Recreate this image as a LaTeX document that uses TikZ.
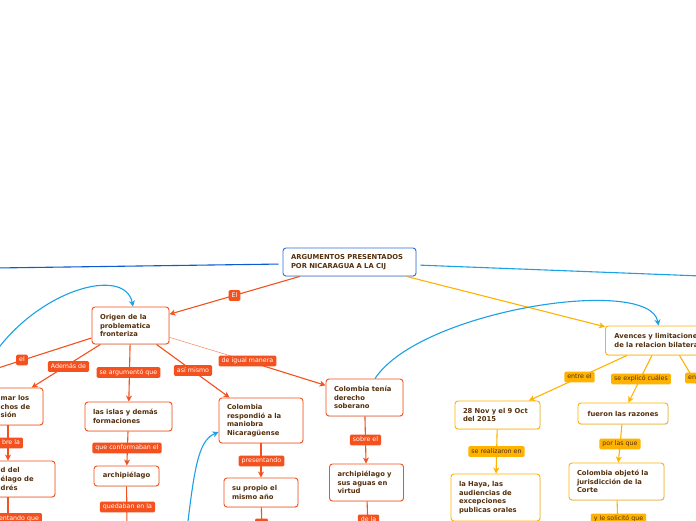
\documentclass[tikz,border=0pt]{standalone}
\usepackage{fontspec}
\setmainfont{DejaVu Sans}
\usetikzlibrary{arrows.meta,shadows,calc}
\definecolor{ora}{HTML}{F4511E}
\definecolor{yel}{HTML}{FFB300}
\definecolor{dblue}{HTML}{0B5BD3}
\definecolor{lblue}{HTML}{1BA1E6}
\definecolor{cblue}{HTML}{2F6FD8}
\definecolor{brn}{HTML}{54300E}
\tikzset{
  box/.style={rounded corners=3pt, fill=white, line width=0.9pt, inner xsep=8pt, inner ysep=0pt,
    align=left, text=brn, font=\fontsize{6.8}{8.6}\selectfont\bfseries,
    drop shadow={shadow xshift=0.5pt, shadow yshift=-0.9pt, opacity=0.18}},
  obox/.style={box, draw=ora},
  ybox/.style={box, draw=yel},
  cbox/.style={box, draw=cblue},
  boxtext/.style={inner sep=0pt, align=left, text=brn, font=\fontsize{6.8}{8.6}\selectfont\bfseries},
  lab/.style={rounded corners=1.2pt, inner xsep=3pt, inner ysep=2.3pt, text height=4.7pt, text depth=1.3pt,
    font=\fontsize{6.3}{7}\selectfont},
  olab/.style={lab, fill=ora, text=white},
  ylab/.style={lab, fill=yel, text=brn},
  tip/.style={-{Stealth[length=6pt,width=6pt,inset=1.8pt]}},
  oline/.style={draw=ora, line width=1.1pt},
  yline/.style={draw=yel, line width=1.1pt},
  oarr/.style={oline, tip},
  yarr/.style={yline, tip},
  barr/.style={draw=lblue, line width=1.1pt, tip},
}
\begin{document}
\begin{tikzpicture}[x=1pt,y=-1pt]
\useasboundingbox (0,0) rectangle (696,520);
\clip (0,0) rectangle (696,520);
\fill[white] (0,0) rectangle (696,520);

% free ends
\coordinate (Lend) at (-5,268);
\coordinate (Rend) at (701,276);
\coordinate (elend) at (-5,369);
\coordinate (cv1) at (-10,360);
\coordinate (cv3) at (187,530);
\coordinate (enend) at (706,400);
\coordinate (archiend) at (127,530);
\coordinate (propioend) at (262,530);
\coordinate (aguasend) at (368,530);
\coordinate (objend) at (618,530);
\coordinate (Bend) at (8,530);

% boxes
\node[cbox, minimum height=28pt, text width=117pt] (center) at (349.5,262) {ARGUMENTOS PRESENTADOS\\POR NICARAGUA A LA CIJ};
\node[obox, minimum height=37pt, text width=61pt] (origen) at (130.5,325.5) {Origen de la\\problematica\\fronteriza};
\node[obox, minimum height=37pt, minimum width=83pt, inner xsep=0pt] (A) at (1.5,406.5) {};
\node[boxtext, anchor=west] (Atext) at (0.5,406.5) {mar los\\chos de\\sión};
\node[obox, minimum height=36pt, minimum width=95pt, inner xsep=0pt] (B) at (7.5,479) {};
\node[boxtext, anchor=west] (Btext) at (0.5,479) {d del\\élago de\\drés};
\node[obox, minimum height=29pt, text width=71pt] (islas) at (128.5,416.5) {las islas y demás\\formaciones};
\node[obox, minimum height=20pt, text width=49pt, align=center] (archi) at (126.5,476) {archipiélago};
\node[obox, minimum height=45pt, text width=68pt] (resp) at (261,420.5) {Colombia\\respondió a la\\maniobra\\Nicaragüense};
\node[obox, minimum height=29pt, text width=58pt] (propio) at (261,492.5) {su propio el\\mismo año};
\node[obox, minimum height=37pt, text width=61pt] (tenia) at (364.5,397.5) {Colombia tenía\\derecho\\soberano};
\node[obox, minimum height=37pt, text width=58pt] (aguas) at (366.5,482.5) {archipiélago y\\sus aguas en\\virtud};
\node[ybox, minimum height=29pt, text width=90pt, inner xsep=9pt, anchor=west] (avences) at (605,340.5) {Avences y limitaciones\\de la relacion bilateral};
\node[ybox, minimum height=28pt, text width=69pt] (nov) at (497.5,415) {28 Nov y el 9 Oct\\del 2015};
\node[ybox, minimum height=47pt, text width=73pt] (haya) at (495.5,497.5) {la Haya, las\\audiencias de\\excepciones\\publicas orales};
\node[ybox, minimum height=21pt, text width=74pt, align=center] (razones) at (623,413.5) {fueron las razones};
\node[ybox, minimum height=37pt, text width=79pt] (objeto) at (616.5,481.5) {Colombia objetó la\\jurisdicción de la\\Corte};

% connectors
\draw[dblue, line width=1.1pt, shorten <=4pt] ([yshift=-2pt]center.west) -- (Lend);
\draw[lblue, line width=1.1pt, shorten <=4pt] ([yshift=-3pt]center.east) -- (Rend);
\draw[oarr] (center) -- (origen);
\draw[yarr] (center) -- (avences);
\draw[oline] (origen) -- (elend);
\draw[oarr] (origen) -- (A);
\draw[oarr] (origen) -- (islas);
\draw[oarr] (origen) -- (resp);
\draw[draw=ora!70, line width=0.5pt] (origen) -- (247.5,361);
\draw[oarr] (247.5,361) -- (tenia);
\draw[oarr] ([xshift=6.5pt]A.south) -- ([xshift=0.5pt]B.north);
\draw[oline] ([xshift=0.5pt]B.south) -- (Bend);
\draw[oarr] (islas) -- (archi);
\draw[oline] (archi) -- (archiend);
\draw[oarr] (resp) -- (propio);
\draw[oline] (propio) -- (propioend);
\draw[oarr] (tenia) -- (aguas);
\draw[oline] (aguas) -- (aguasend);
\draw[yarr] (avences) -- (nov);
\draw[yarr] (avences) -- (razones);
\draw[yline] ([xshift=20pt]avences.south) -- (enend);
\draw[yarr] (nov) -- (haya);
\draw[yarr] (razones) -- (objeto);
\draw[yline] (objeto) -- (objend);
\draw[barr] (cv1) .. controls (35,290) and (125,265) .. ([xshift=2.5pt]origen.north);
\draw[barr] ([xshift=10.5pt]tenia.north) .. controls (420,310) and (650,275) .. ([xshift=-1pt]avences.north);
\draw[barr] (cv3) .. controls (195,460) and (200,440) .. ([yshift=-11.5pt]resp.west);

% labels
\node[olab] (lEl) at (234.5,295.5) {El};
\node[olab] (lel) at (22,360) {el};
\node[olab] (lademas) at (68.5,366.5) {Además de};
\node[olab] (largu) at (128.5,372.5) {se argumentó que};
\node[olab] (lasi) at (193,370.5) {así mismo};
\node[olab] (ligual) at (247.5,361) {de igual manera};
\node[olab] (lsobrela) at (11,443) {bre la};
\node[olab] (lentando) at (19,518.5) {entando que};
\node[olab] (lconf) at (127,448) {que conformaban el};
\node[olab] (lqued) at (127.5,507) {quedaban en la};
\node[olab] (lpres) at (261.5,461) {presentando};
\node[olab, minimum width=13pt, inner xsep=0pt] (lpropio) at (261.5,524) {};
\node[olab] (lsobreel) at (365.5,440) {sobre el};
\node[olab] (ldela) at (368.5,520) {de la};
\node[ylab] (lentre) at (579.5,377) {entre el};
\node[ylab] (lexpl) at (641,379) {se explicó cuáles};
\node[ylab, anchor=west] (len) at (685,378) {en};
\node[ylab] (lreal) at (496.5,451.5) {se realizaron en};
\node[ylab] (lpor) at (620,444) {por las que};
\node[ylab] (lsolic) at (618.5,519) {y le solicitó que};
\end{tikzpicture}
\end{document}
